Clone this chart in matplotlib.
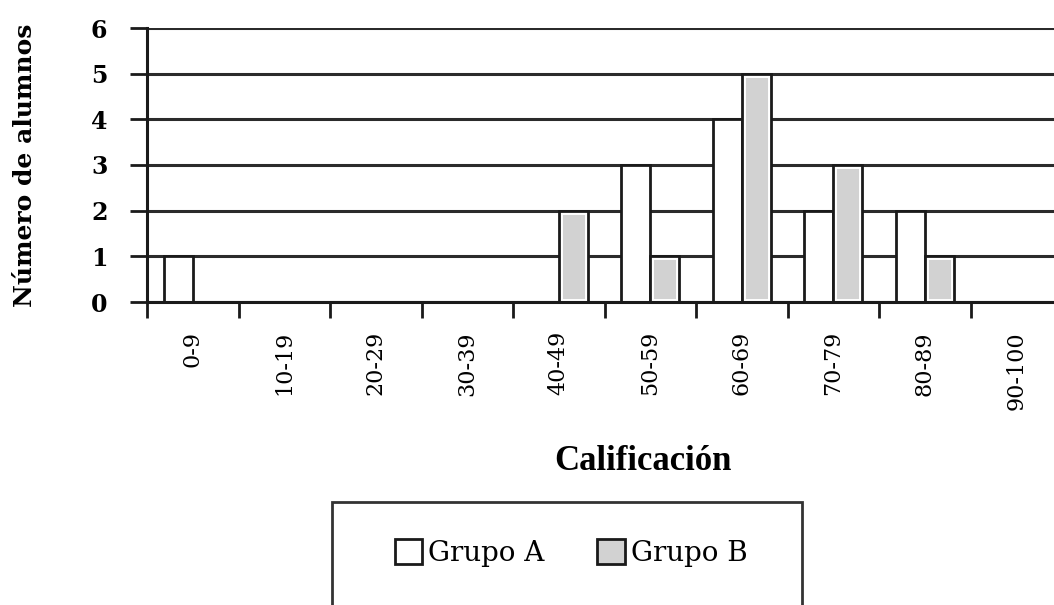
import numpy as np
import matplotlib
matplotlib.use("Agg")
import matplotlib.pyplot as plt
from matplotlib.patches import Rectangle, Patch

# Daten
categorias = ['0-9', '10-19', '20-29', '30-39', '40-49', '50-59',
              '60-69', '70-79', '80-89', '90-100']
grupo_a = [1, 0, 0, 0, 0, 3, 4, 2, 2, 0]
grupo_b = [0, 0, 0, 0, 2, 1, 5, 3, 1, 0]
yticks = [0, 1, 2, 3, 4, 5, 6]

gris = '#d2d2d2'
linea = '#1a1a1a'

fig = plt.figure(figsize=(10.54, 6.05), dpi=100)
ax = fig.add_axes([147 / 1054, 303 / 605, 915 / 1054, 274 / 605])

x = np.arange(len(categorias)) + 0.5
w = 0.318

# Grupo A (weiss)
ax.bar(x - w / 2, grupo_a, w, color='white', edgecolor=linea, linewidth=2, zorder=3)

# Grupo B (grau, mit weissem Innenrand)
inner = ax.bar(x + w / 2, grupo_b, w, color=gris, edgecolor='white', linewidth=5, zorder=3)
for r in inner:
    r.set_clip_path(r)
ax.bar(x + w / 2, grupo_b, w, fill=False, edgecolor=linea, linewidth=2, zorder=4)

ax.set_xlim(0, len(categorias))
ax.set_ylim(0, 6)
ax.set_yticks(yticks)
ax.grid(axis='y', color='#2b2b2b', linewidth=2.2)
ax.set_axisbelow(True)

for s in ['top', 'right']:
    ax.spines[s].set_visible(False)
for s in ['left', 'bottom']:
    ax.spines[s].set_linewidth(2.2)
    ax.spines[s].set_color(linea)
    ax.spines[s].set_zorder(5)

# Striche an den Klassengrenzen, Beschriftung in der Mitte
ax.set_xticks(np.arange(len(categorias) + 1))
ax.set_xticklabels([])
ax.set_xticks(x, minor=True)
ax.set_xticklabels(categorias, minor=True, rotation=90,
                   fontsize=16, family='DejaVu Serif')
ax.tick_params(axis='x', which='major', direction='out', length=11.5, width=2, color=linea)
ax.tick_params(axis='x', which='minor', length=0, pad=21)
ax.tick_params(axis='y', direction='out', length=12.5, width=2, color=linea, pad=16)
for t in ax.get_yticklabels():
    t.set_fontsize(17)
    t.set_family('DejaVu Serif')
    t.set_fontweight('bold')

fig.text(643 / 1054, 1 - 462 / 605, 'Calificación', ha='center', va='center',
         fontsize=25, fontweight='bold', family='Liberation Serif')
fig.text(25 / 1054, 1 - 165 / 605, 'Número de alumnos', ha='center', va='center',
         rotation=90, fontsize=18, fontweight='bold', family='DejaVu Serif')

# Legende mit eigenem Rahmen
fig.patches.append(Rectangle((332 / 1054, -0.05), 470 / 1054, 0.05 + 103 / 605,
                             transform=fig.transFigure, fill=False,
                             edgecolor='#333333', linewidth=2))
handles = [Patch(facecolor='white', edgecolor=linea, linewidth=2),
           Patch(facecolor=gris, edgecolor=linea, linewidth=2)]
fig.legend(handles, ['Grupo A', 'Grupo B'], loc='center',
           bbox_to_anchor=(571 / 1054, 1 - 553 / 605), ncol=2, frameon=False,
           handlelength=1.0, handleheight=1.0, handletextpad=0.2,
           columnspacing=1.9, prop={'family': 'DejaVu Serif', 'size': 20})

fig.savefig('out.png', dpi=100)
